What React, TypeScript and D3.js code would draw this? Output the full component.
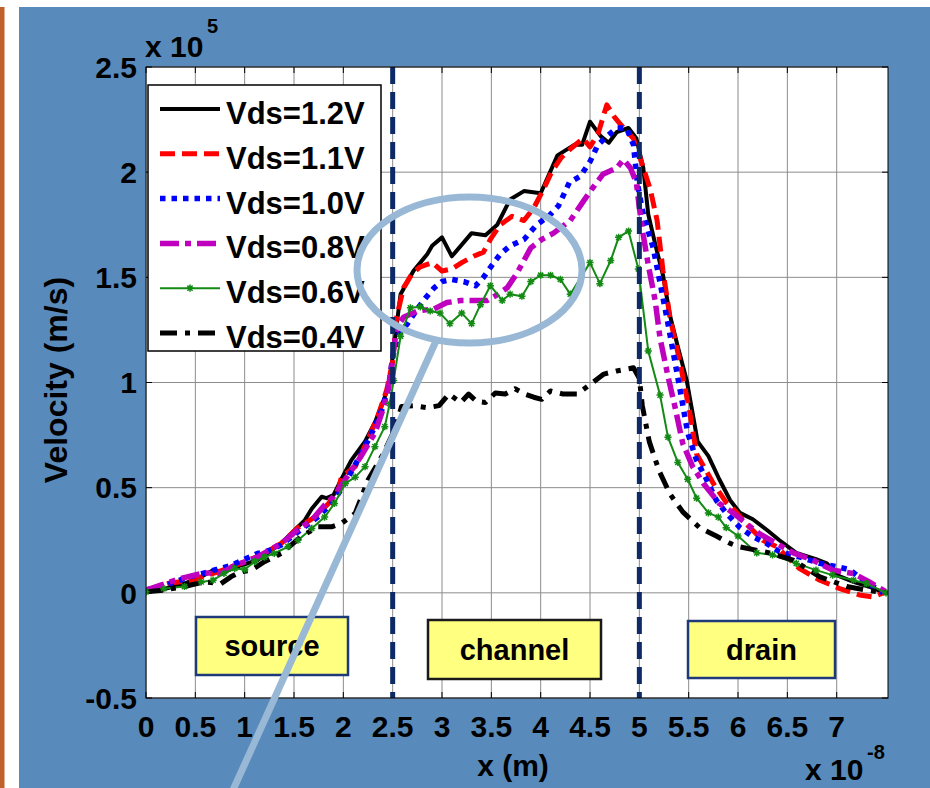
import React from 'react';
import * as d3 from 'd3';

type P = [number, number];

const xTicks = [0, 0.5, 1, 1.5, 2, 2.5, 3, 3.5, 4, 4.5, 5, 5.5, 6, 6.5, 7];
const xTickLabels = ['0', '0.5', '1', '1.5', '2', '2.5', '3', '3.5', '4', '4.5', '5', '5.5', '6', '6.5', '7'];
const yTicks = [-0.5, 0, 0.5, 1, 1.5, 2, 2.5];
const yTickLabels = ['-0.5', '0', '0.5', '1', '1.5', '2', '2.5'];
const regionLines = [2.5, 5];
const regionLabels = ['source', 'channel', 'drain'];

const v12: P[] = [[0,0.013],[0.15,0.015],[0.35,0.037],[0.56,0.076],[0.68,0.108],[0.79,0.10],[0.96,0.13],[1.13,0.155],[1.37,0.235],[1.51,0.30],[1.61,0.346],[1.68,0.40],[1.78,0.457],[1.83,0.45],[1.90,0.465],[1.98,0.54],[2.08,0.63],[2.22,0.72],[2.32,0.81],[2.42,0.93],[2.47,1.01],[2.52,1.20],[2.58,1.42],[2.71,1.53],[2.85,1.61],[2.90,1.65],[3.0,1.69],[3.10,1.60],[3.30,1.71],[3.44,1.70],[3.56,1.75],[3.69,1.87],[3.83,1.91],[4.0,1.90],[4.17,2.08],[4.34,2.13],[4.42,2.13],[4.50,2.24],[4.61,2.17],[4.69,2.14],[4.77,2.19],[4.89,2.21],[4.97,2.16],[5.04,2.02],[5.09,1.80],[5.17,1.64],[5.24,1.51],[5.31,1.32],[5.39,1.17],[5.48,1.01],[5.53,0.88],[5.59,0.72],[5.70,0.65],[5.81,0.54],[5.92,0.44],[6.02,0.38],[6.15,0.35],[6.29,0.30],[6.42,0.25],[6.59,0.19],[6.79,0.16],[6.90,0.14],[7.0,0.084],[7.17,0.052],[7.33,0.029],[7.50,-0.003]];

const v11: P[] = [[0,0.013],[0.22,0.044],[0.46,0.06],[0.73,0.10],[0.96,0.14],[1.17,0.18],[1.37,0.235],[1.54,0.31],[1.71,0.36],[1.85,0.425],[1.95,0.49],[1.98,0.55],[2.12,0.60],[2.25,0.73],[2.35,0.84],[2.44,0.965],[2.50,1.10],[2.54,1.31],[2.61,1.45],[2.70,1.52],[2.78,1.55],[2.90,1.57],[3.0,1.53],[3.10,1.54],[3.20,1.57],[3.32,1.60],[3.42,1.62],[3.49,1.68],[3.59,1.75],[3.71,1.79],[3.83,1.77],[3.93,1.83],[4.03,1.92],[4.11,2.0],[4.21,2.07],[4.30,2.11],[4.43,2.16],[4.50,2.12],[4.58,2.18],[4.67,2.32],[4.75,2.26],[4.84,2.21],[4.94,2.16],[5.02,2.05],[5.11,1.92],[5.18,1.77],[5.24,1.53],[5.31,1.31],[5.41,1.10],[5.51,0.86],[5.58,0.66],[5.75,0.52],[5.88,0.43],[5.97,0.39],[6.08,0.33],[6.25,0.25],[6.39,0.22],[6.62,0.116],[6.83,0.06],[7.03,0.02],[7.23,-0.01],[7.37,-0.02],[7.50,0.005]];

const v10: P[] = [[0,0.013],[0.22,0.04],[0.39,0.068],[0.63,0.10],[0.86,0.13],[1.13,0.187],[1.24,0.20],[1.37,0.227],[1.54,0.29],[1.74,0.36],[1.91,0.44],[2.05,0.55],[2.18,0.66],[2.32,0.79],[2.39,0.87],[2.46,0.98],[2.50,1.12],[2.55,1.22],[2.65,1.28],[2.75,1.35],[2.83,1.40],[2.92,1.45],[3.0,1.48],[3.10,1.49],[3.22,1.48],[3.34,1.46],[3.42,1.50],[3.51,1.56],[3.59,1.61],[3.69,1.65],[3.83,1.68],[3.96,1.75],[4.08,1.79],[4.18,1.84],[4.29,1.95],[4.40,1.98],[4.50,2.05],[4.58,2.13],[4.67,2.17],[4.77,2.21],[4.87,2.21],[4.94,2.13],[4.98,1.95],[5.03,1.82],[5.09,1.72],[5.14,1.64],[5.22,1.45],[5.29,1.28],[5.36,1.10],[5.43,0.92],[5.49,0.76],[5.58,0.63],[5.68,0.54],[5.78,0.44],[5.88,0.38],[6.02,0.31],[6.14,0.27],[6.29,0.235],[6.42,0.195],[6.63,0.17],[6.83,0.14],[7.0,0.124],[7.13,0.11],[7.27,0.06],[7.47,0.0]];

const v08: P[] = [[0,0.013],[0.15,0.037],[0.35,0.068],[0.59,0.095],[0.76,0.092],[0.90,0.13],[1.13,0.17],[1.37,0.235],[1.54,0.30],[1.68,0.346],[1.81,0.417],[1.90,0.457],[2.02,0.54],[2.18,0.65],[2.32,0.76],[2.40,0.87],[2.46,0.98],[2.50,1.12],[2.54,1.26],[2.61,1.31],[2.75,1.34],[2.92,1.35],[3.05,1.38],[3.19,1.39],[3.32,1.39],[3.46,1.39],[3.57,1.42],[3.66,1.45],[3.76,1.52],[3.90,1.64],[4.01,1.68],[4.13,1.71],[4.30,1.77],[4.43,1.86],[4.52,1.92],[4.63,1.99],[4.77,2.02],[4.84,2.06],[4.91,2.02],[4.97,1.95],[5.0,1.83],[5.04,1.70],[5.09,1.56],[5.16,1.39],[5.21,1.21],[5.29,1.03],[5.36,0.886],[5.44,0.71],[5.54,0.60],[5.65,0.52],[5.81,0.425],[5.95,0.38],[6.08,0.33],[6.22,0.28],[6.39,0.235],[6.56,0.19],[6.76,0.155],[6.96,0.108],[7.17,0.092],[7.33,0.052],[7.50,0.005]];

const v06: P[] = [[0,0.005],[0.18,0.02],[0.39,0.03],[0.56,0.052],[0.68,0.06],[0.79,0.092],[0.90,0.116],[1.0,0.111],[1.10,0.148],[1.20,0.17],[1.30,0.187],[1.44,0.22],[1.54,0.25],[1.68,0.306],[1.81,0.36],[1.91,0.425],[2.02,0.52],[2.12,0.55],[2.22,0.60],[2.32,0.695],[2.42,0.79],[2.47,0.90],[2.51,1.01],[2.58,1.22],[2.68,1.355],[2.78,1.36],[2.88,1.34],[2.98,1.33],[3.08,1.28],[3.20,1.33],[3.30,1.28],[3.39,1.37],[3.49,1.46],[3.61,1.39],[3.69,1.42],[3.81,1.41],[3.90,1.48],[4.0,1.51],[4.10,1.51],[4.20,1.49],[4.30,1.42],[4.50,1.57],[4.60,1.47],[4.71,1.58],[4.79,1.69],[4.89,1.72],[4.99,1.54],[5.09,1.15],[5.21,0.94],[5.29,0.74],[5.39,0.62],[5.49,0.54],[5.58,0.45],[5.70,0.38],[5.80,0.36],[5.88,0.31],[6.0,0.27],[6.19,0.19],[6.35,0.18],[6.59,0.14],[6.79,0.108],[6.96,0.084],[7.17,0.06],[7.30,0.044],[7.50,0.0]];

const v04: P[] = [[0,0.005],[0.18,0.013],[0.39,0.03],[0.59,0.052],[0.76,0.044],[0.86,0.076],[0.96,0.10],[1.07,0.108],[1.20,0.148],[1.37,0.187],[1.57,0.267],[1.74,0.314],[1.88,0.314],[1.98,0.33],[2.12,0.378],[2.25,0.536],[2.39,0.648],[2.52,0.775],[2.59,0.886],[2.71,0.89],[2.85,0.88],[2.97,0.89],[3.07,0.945],[3.19,0.905],[3.27,0.945],[3.35,0.91],[3.44,0.905],[3.54,0.95],[3.64,0.945],[3.74,0.97],[3.84,0.945],[3.93,0.93],[4.01,0.92],[4.10,0.96],[4.23,0.945],[4.37,0.945],[4.50,0.99],[4.64,1.04],[4.77,1.055],[4.94,1.07],[5.0,1.02],[5.03,0.89],[5.10,0.72],[5.20,0.58],[5.31,0.47],[5.44,0.385],[5.61,0.31],[5.78,0.27],[5.92,0.235],[6.0,0.22],[6.32,0.19],[6.56,0.155],[6.83,0.076],[7.10,0.03],[7.30,0.013],[7.50,0.0]];

const seriesNames = ['Vds=1.2V', 'Vds=1.1V', 'Vds=1.0V', 'Vds=0.8V', 'Vds=0.6V', 'Vds=0.4V'];
const seriesData = [v12, v11, v10, v08, v06, v04];
const seriesColors = ['#000000', '#ff0000', '#0000ff', '#bf00bf', '#138a13', '#000000'];
const seriesWidths = [4, 5, 5.5, 5.5, 2, 5];
const seriesDash = ['none', '15 7', '5.5 6', '19 6 6 6', 'none', '17 8 5 8'];

const FONT = '"Liberation Sans", Arial, Helvetica, sans-serif';

function Star({ cx, cy, color }: { cx: number; cy: number; color: string }) {
  const r = 3.6;
  const d = r * 0.72;
  return (
    <path
      d={`M${cx - r},${cy}L${cx + r},${cy}M${cx},${cy - r}L${cx},${cy + r}M${cx - d},${cy - d}L${cx + d},${cy + d}M${cx - d},${cy + d}L${cx + d},${cy - d}`}
      stroke={color}
      strokeWidth={1.5}
      fill="none"
    />
  );
}

export default function App() {
  const L = 146, R = 888, T = 67, B = 698;
  const x = d3.scaleLinear().domain([0, 7.52]).range([L, R]);
  const y = d3.scaleLinear().domain([-0.5, 2.5]).range([B, T]);
  const line = d3.line<P>().x((d) => x(d[0])).y((d) => y(d[1]));

  const legendRows = seriesNames.map((_, i) => 109 + i * 44.8);

  const boxes = [
    { x0: 196, x1: 348, y0: 617, y1: 675, stroke: '#1f3a7a' },
    { x0: 428, x1: 601, y0: 620, y1: 679, stroke: '#1a1a1a' },
    { x0: 688, x1: 835, y0: 621, y1: 678, stroke: '#1f3a7a' },
  ];

  return (
    <svg
      width={930}
      height={788}
      viewBox="0 0 930 788"
      style={{ position: 'absolute', left: 0, top: 0, display: 'block' }}
      fontFamily={FONT}
    >
      <rect x={0} y={0} width={930} height={788} fill="#ffffff" />
      <rect x={0} y={7} width={4.5} height={781} fill="#c0612b" />
      <rect x={19} y={7} width={911} height={781} fill="#588bbb" />

      <defs>
        <clipPath id="plotclip">
          <rect x={L} y={T} width={R - L} height={B - T} />
        </clipPath>
      </defs>

      <rect x={L} y={T} width={R - L} height={B - T} fill="#ffffff" />

      {xTicks.map((t) => (
        <line key={'gx' + t} x1={x(t)} x2={x(t)} y1={T} y2={B} stroke="#8c8c8c" strokeWidth={1} />
      ))}
      {yTicks.map((t) => (
        <line key={'gy' + t} x1={L} x2={R} y1={y(t)} y2={y(t)} stroke="#8c8c8c" strokeWidth={1} />
      ))}

      {xTicks.map((t) => (
        <g key={'tx' + t}>
          <line x1={x(t)} x2={x(t)} y1={B} y2={B - 6} stroke="#000" strokeWidth={1} />
          <line x1={x(t)} x2={x(t)} y1={T} y2={T + 6} stroke="#000" strokeWidth={1} />
        </g>
      ))}
      {yTicks.map((t) => (
        <g key={'ty' + t}>
          <line x1={L} x2={L + 6} y1={y(t)} y2={y(t)} stroke="#000" strokeWidth={1} />
          <line x1={R} x2={R - 6} y1={y(t)} y2={y(t)} stroke="#000" strokeWidth={1} />
        </g>
      ))}

      <g clipPath="url(#plotclip)">
        {seriesData.map((s, i) => (
          <path
            key={'s' + i}
            d={line(s) || ''}
            fill="none"
            stroke={seriesColors[i]}
            strokeWidth={seriesWidths[i]}
            strokeDasharray={seriesDash[i]}
            strokeLinejoin="round"
          />
        ))}
        {v06.map((p, i) => (
          <Star key={'m' + i} cx={x(p[0])} cy={y(p[1])} color={seriesColors[4]} />
        ))}
      </g>

      {regionLines.map((r) => (
        <line key={'r' + r} x1={x(r)} x2={x(r)} y1={T} y2={B} stroke="#0e2a66" strokeWidth={5} strokeDasharray="17 8" />
      ))}

      <rect x={L} y={T} width={R - L} height={B - T} fill="none" stroke="#000" strokeWidth={1} />

      {boxes.map((b, i) => (
        <g key={'b' + i}>
          <rect x={b.x0} y={b.y0} width={b.x1 - b.x0} height={b.y1 - b.y0} fill="#ffff80" stroke={b.stroke} strokeWidth={2.5} />
          <text x={(b.x0 + b.x1) / 2} y={(b.y0 + b.y1) / 2 + 10} textAnchor="middle" fontSize={29} fontWeight="bold" fill="#000">
            {regionLabels[i]}
          </text>
        </g>
      ))}

      {xTicks.map((t, i) => (
        <text key={'lx' + t} x={x(t)} y={737} textAnchor="middle" fontSize={30} fontWeight="bold" fill="#000">
          {xTickLabels[i]}
        </text>
      ))}
      {yTicks.map((t, i) => (
        <text key={'ly' + t} x={137} y={y(t) + 10.7} textAnchor="end" fontSize={30} fontWeight="bold" fill="#000">
          {yTickLabels[i]}
        </text>
      ))}

      <text x={145} y={57} fontSize={30} fontWeight="bold" fill="#000">x 10</text>
      <text x={207} y={33} fontSize={20} fontWeight="bold" fill="#000">5</text>
      <text x={805} y={780} fontSize={30} fontWeight="bold" fill="#000">x 10</text>
      <text x={867} y={759} fontSize={20} fontWeight="bold" fill="#000">-8</text>

      <text x={513} y={776} textAnchor="middle" fontSize={30} fontWeight="bold" fill="#000">x (m)</text>
      <text transform="translate(66.5,380) rotate(-90)" textAnchor="middle" fontSize={32} fontWeight="bold" fill="#000">
        Velocity (m/s)
      </text>

      <rect x={148} y={85} width={233} height={266} fill="#ffffff" stroke="#000" strokeWidth={1.5} />
      {seriesNames.map((n, i) => (
        <g key={'lg' + i}>
          <line
            x1={160}
            x2={220}
            y1={legendRows[i]}
            y2={legendRows[i]}
            stroke={seriesColors[i]}
            strokeWidth={seriesWidths[i]}
            strokeDasharray={seriesDash[i]}
          />
          {i === 4 && <Star cx={190} cy={legendRows[i]} color={seriesColors[i]} />}
          <text x={226} y={legendRows[i] + 15} fontSize={31} fontWeight="bold" fill="#000">
            {n}
          </text>
        </g>
      ))}

      <ellipse cx={469.5} cy={270} rx={112.5} ry={73} fill="none" stroke="#98b8d5" strokeWidth={7} />
      <line x1={436} x2={233} y1={341} y2={790} stroke="#98b8d5" strokeWidth={7} />
    </svg>
  );
}
